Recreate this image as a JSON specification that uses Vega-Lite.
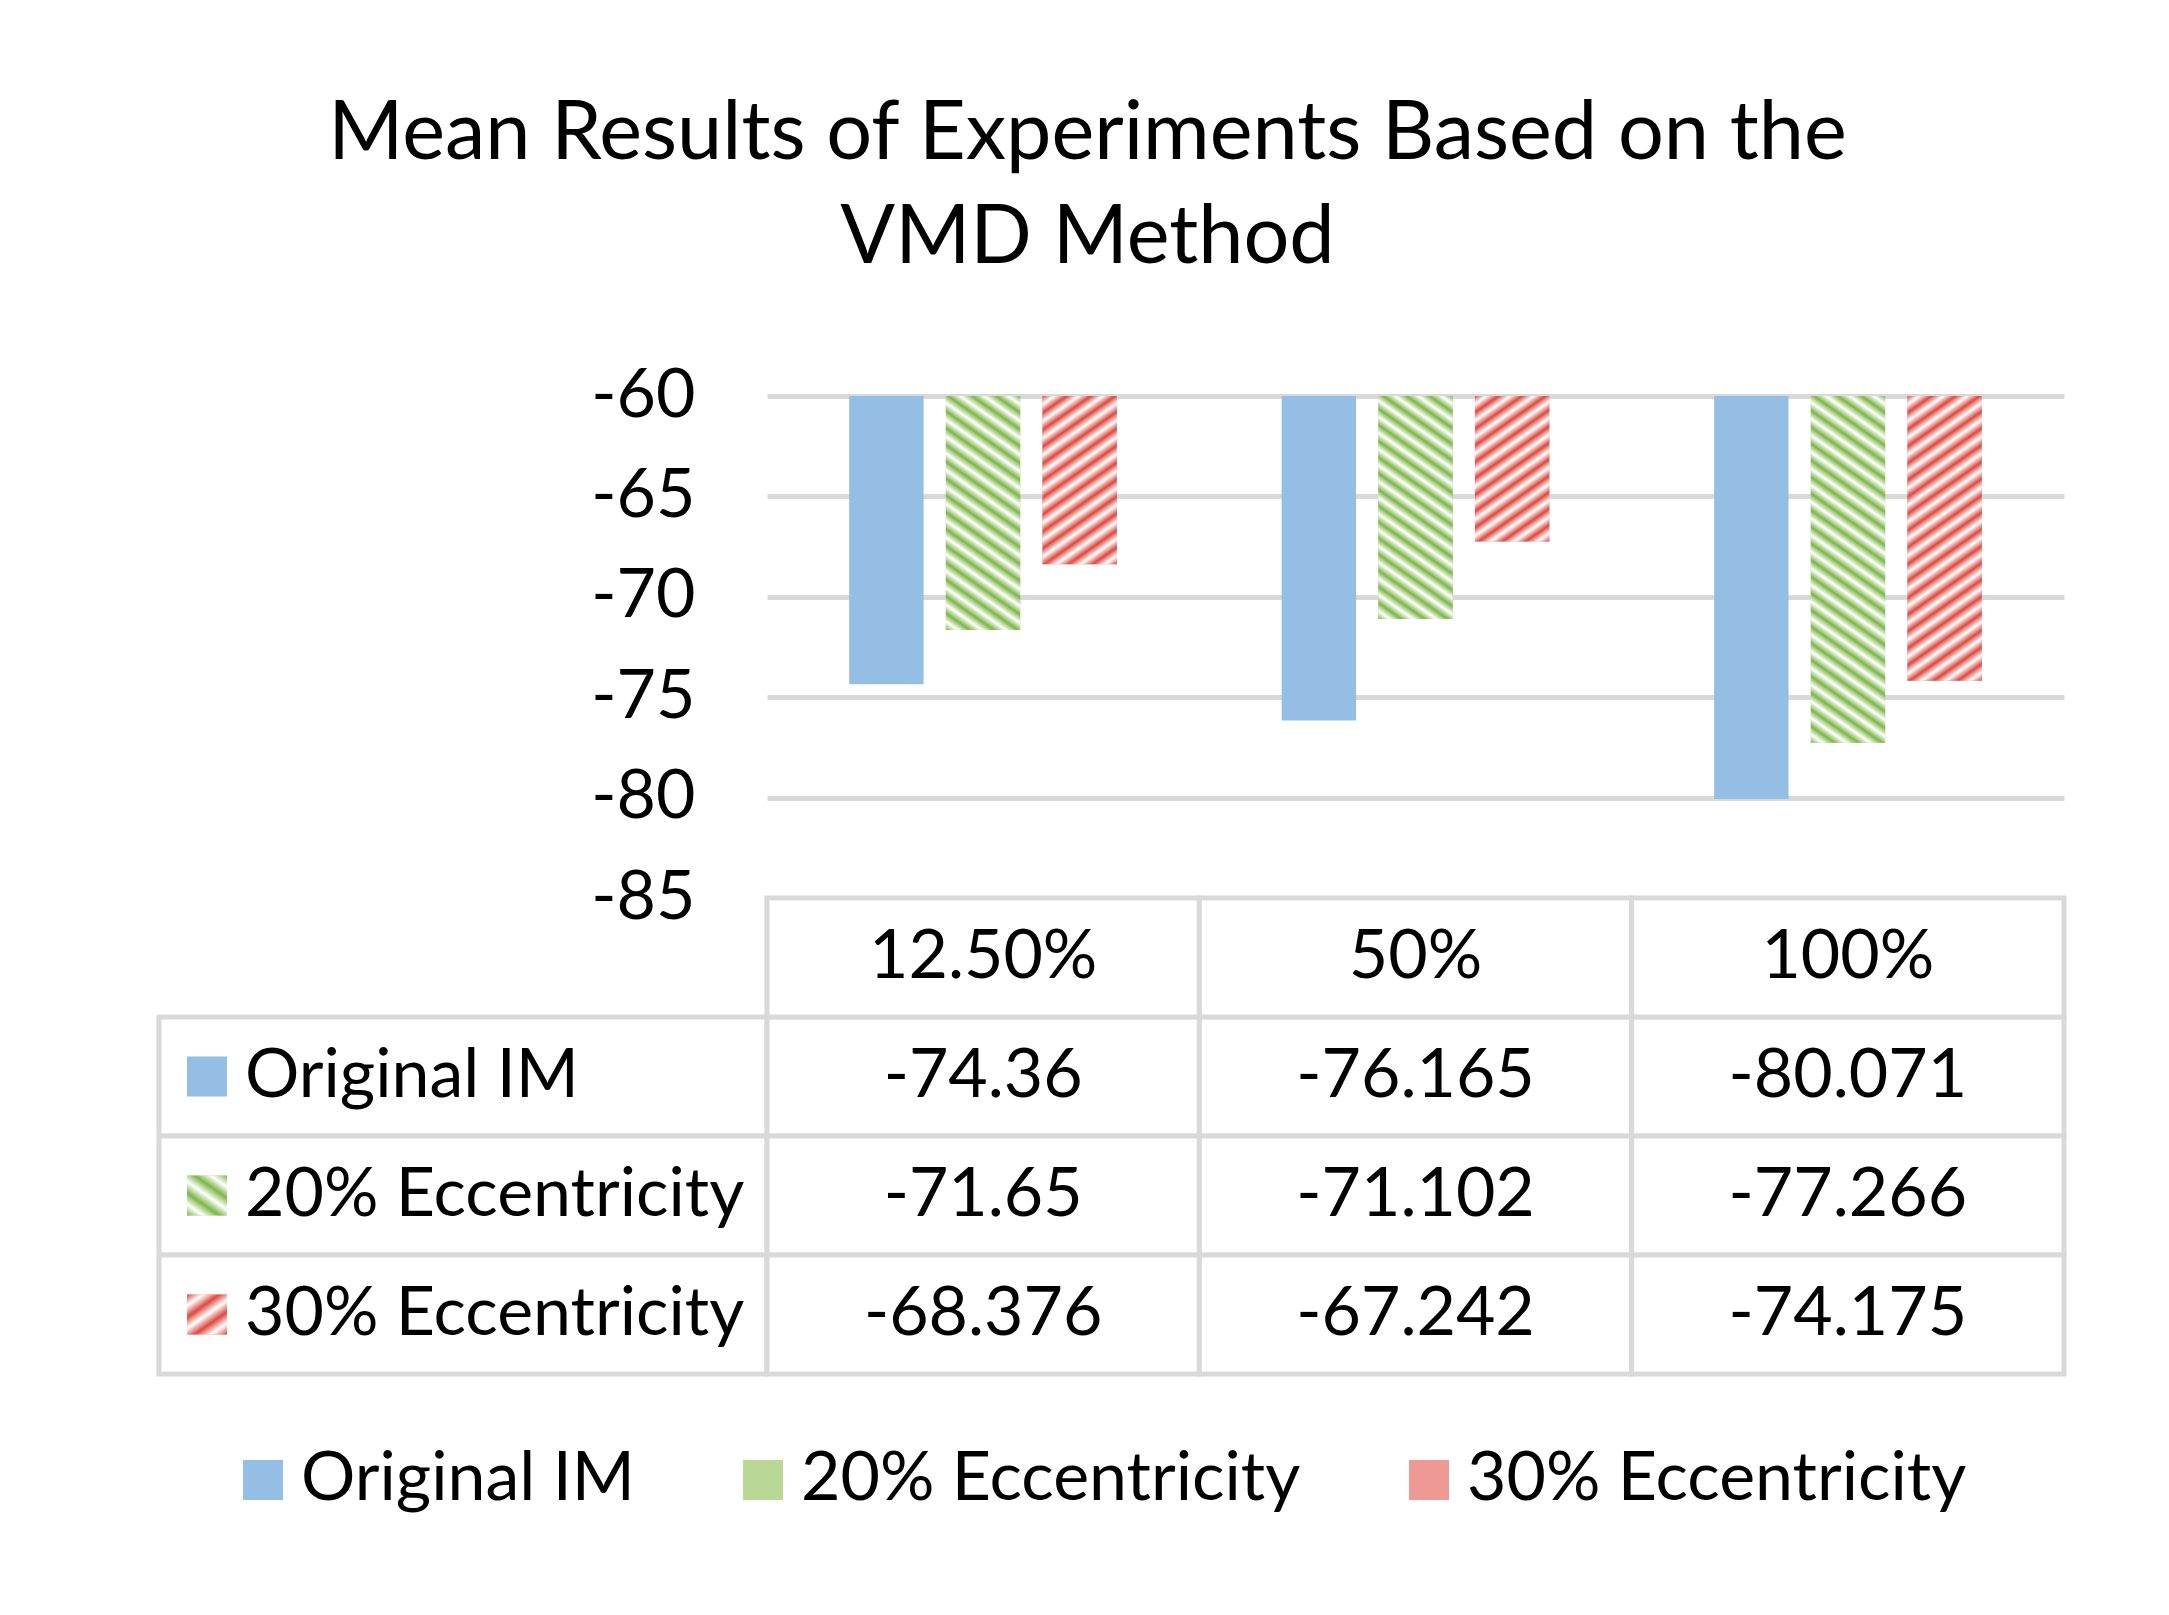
{
  "$schema": "https://vega.github.io/schema/vega-lite/v6.json",
  "background": "white",
  "padding": {"left": 156, "top": 94, "right": 20, "bottom": 20},
  "title": {
    "text": ["Mean Results of Experiments Based on the", "VMD Method"],
    "fontSize": 81, "font": "Lato", "fontWeight": "normal", "color": "black",
    "anchor": "middle", "lineHeight": 104, "offset": 82, "dx": -24
  },
  "datasets": {
    "d": [
      {"cat": "12.50%", "series": "Original IM", "value": -74.36},
      {"cat": "50%", "series": "Original IM", "value": -76.165},
      {"cat": "100%", "series": "Original IM", "value": -80.071},
      {"cat": "12.50%", "series": "20% Eccentricity", "value": -71.65},
      {"cat": "50%", "series": "20% Eccentricity", "value": -71.102},
      {"cat": "100%", "series": "20% Eccentricity", "value": -77.266},
      {"cat": "12.50%", "series": "30% Eccentricity", "value": -68.376},
      {"cat": "50%", "series": "30% Eccentricity", "value": -67.242},
      {"cat": "100%", "series": "30% Eccentricity", "value": -74.175}
    ]
  },
  "data": {"name": "d"},
  "columns": 2,
  "spacing": 0,
  "bounds": "flush",
  "concat": [
    {
      "width": 608, "height": 502,
      "mark": {"type": "text", "text": ""},
      "encoding": {}
    },
    {
      "width": 1297, "height": 502,
      "encoding": {
        "x": {"field": "cat", "type": "nominal", "scale": {"domain": ["12.50%", "50%", "100%"], "paddingInner": 0.381, "paddingOuter": 0.19}, "axis": null},
        "xOffset": {"field": "series", "type": "nominal", "scale": {"domain": ["Original IM", "20% Eccentricity", "30% Eccentricity"], "paddingInner": 0.23, "paddingOuter": 0}},
        "y": {"field": "value", "type": "quantitative",
          "scale": {"domain": [-85, -60], "nice": false, "zero": false},
          "axis": {"values": [-85, -80, -75, -70, -65, -60], "grid": true, "gridColor": "#d9d9d9", "gridWidth": 5,
            "labelExpr": "'' + datum.value",
            "domain": false, "ticks": false, "labelPadding": 72, "labelFontSize": 68, "labelFont": "Lato", "labelColor": "black", "title": null}},
        "y2": {"datum": -60}
      },
      "layer": [
        {
          "mark": {"type": "bar"},
          "encoding": {
            "color": {"field": "series", "type": "nominal",
              "scale": {"domain": ["Original IM", "20% Eccentricity", "30% Eccentricity"], "range": ["#94bee4", "#b9d895", "#ee9994"]},
              "legend": {"orient": "none", "legendX": 70, "legendY": 1050, "direction": "horizontal", "title": null,
                "symbolType": "square", "symbolSize": 1600, "symbolStrokeWidth": 0, "symbolOpacity": 1,
                "labelFontSize": 68, "labelFont": "Lato", "labelColor": "black", "labelOffset": 4, "labelLimit": 1000, "columnPadding": 94,
                "encode": {"symbols": {"update": {"fill": [
                  {"test": "datum.value === '20% Eccentricity'", "value": {"gradient": "linear", "x1": 0, "y1": 1, "x2": 0.7987, "y2": -0.141, "stops": [
                    {"offset": 0, "color": "#7db647"}, {"offset": 0.1667, "color": "#ffffff"}, {"offset": 0.3333, "color": "#7db647"}, {"offset": 0.5, "color": "#ffffff"},
                    {"offset": 0.6667, "color": "#7db647"}, {"offset": 0.8333, "color": "#ffffff"}, {"offset": 1, "color": "#7db647"}]}},
                  {"test": "datum.value === '30% Eccentricity'", "value": {"gradient": "linear", "x1": 0, "y1": 0, "x2": 0.7987, "y2": 1.141, "stops": [
                    {"offset": 0, "color": "#dc4a40"}, {"offset": 0.1667, "color": "#ffffff"}, {"offset": 0.3333, "color": "#dc4a40"}, {"offset": 0.5, "color": "#ffffff"},
                    {"offset": 0.6667, "color": "#dc4a40"}, {"offset": 0.8333, "color": "#ffffff"}, {"offset": 1, "color": "#dc4a40"}]}},
                  {"value": "#94bee4"}
                ], "opacity": {"value": 1}}}}}}
          }
        },
        {
          "transform": [{"filter": "datum.series === '20% Eccentricity' && datum.cat === '12.50%'"}],
          "mark": {"type": "bar", "color": {"gradient": "linear", "x1": 0, "y1": 1, "x2": 0.2594, "y2": -0.165, "stops": [
            {"offset": 0, "color": "#7db647"}, {"offset": 0.0294, "color": "#ffffff"}, {"offset": 0.0588, "color": "#7db647"}, {"offset": 0.0882, "color": "#ffffff"},
            {"offset": 0.1176, "color": "#7db647"}, {"offset": 0.1471, "color": "#ffffff"}, {"offset": 0.1765, "color": "#7db647"}, {"offset": 0.2059, "color": "#ffffff"},
            {"offset": 0.2353, "color": "#7db647"}, {"offset": 0.2647, "color": "#ffffff"}, {"offset": 0.2941, "color": "#7db647"}, {"offset": 0.3235, "color": "#ffffff"},
            {"offset": 0.3529, "color": "#7db647"}, {"offset": 0.3824, "color": "#ffffff"}, {"offset": 0.4118, "color": "#7db647"}, {"offset": 0.4412, "color": "#ffffff"},
            {"offset": 0.4706, "color": "#7db647"}, {"offset": 0.5, "color": "#ffffff"}, {"offset": 0.5294, "color": "#7db647"}, {"offset": 0.5588, "color": "#ffffff"},
            {"offset": 0.5882, "color": "#7db647"}, {"offset": 0.6176, "color": "#ffffff"}, {"offset": 0.6471, "color": "#7db647"}, {"offset": 0.6765, "color": "#ffffff"},
            {"offset": 0.7059, "color": "#7db647"}, {"offset": 0.7353, "color": "#ffffff"}, {"offset": 0.7647, "color": "#7db647"}, {"offset": 0.7941, "color": "#ffffff"},
            {"offset": 0.8235, "color": "#7db647"}, {"offset": 0.8529, "color": "#ffffff"}, {"offset": 0.8824, "color": "#7db647"}, {"offset": 0.9118, "color": "#ffffff"},
            {"offset": 0.9412, "color": "#7db647"}, {"offset": 0.9706, "color": "#ffffff"}, {"offset": 1, "color": "#7db647"}
          ]}}
        },
        {
          "transform": [{"filter": "datum.series === '20% Eccentricity' && datum.cat === '50%'"}],
          "mark": {"type": "bar", "color": {"gradient": "linear", "x1": 0, "y1": 1, "x2": 0.2733, "y2": -0.1698, "stops": [
            {"offset": 0, "color": "#7db647"}, {"offset": 0.0294, "color": "#ffffff"}, {"offset": 0.0588, "color": "#7db647"}, {"offset": 0.0882, "color": "#ffffff"},
            {"offset": 0.1176, "color": "#7db647"}, {"offset": 0.1471, "color": "#ffffff"}, {"offset": 0.1765, "color": "#7db647"}, {"offset": 0.2059, "color": "#ffffff"},
            {"offset": 0.2353, "color": "#7db647"}, {"offset": 0.2647, "color": "#ffffff"}, {"offset": 0.2941, "color": "#7db647"}, {"offset": 0.3235, "color": "#ffffff"},
            {"offset": 0.3529, "color": "#7db647"}, {"offset": 0.3824, "color": "#ffffff"}, {"offset": 0.4118, "color": "#7db647"}, {"offset": 0.4412, "color": "#ffffff"},
            {"offset": 0.4706, "color": "#7db647"}, {"offset": 0.5, "color": "#ffffff"}, {"offset": 0.5294, "color": "#7db647"}, {"offset": 0.5588, "color": "#ffffff"},
            {"offset": 0.5882, "color": "#7db647"}, {"offset": 0.6176, "color": "#ffffff"}, {"offset": 0.6471, "color": "#7db647"}, {"offset": 0.6765, "color": "#ffffff"},
            {"offset": 0.7059, "color": "#7db647"}, {"offset": 0.7353, "color": "#ffffff"}, {"offset": 0.7647, "color": "#7db647"}, {"offset": 0.7941, "color": "#ffffff"},
            {"offset": 0.8235, "color": "#7db647"}, {"offset": 0.8529, "color": "#ffffff"}, {"offset": 0.8824, "color": "#7db647"}, {"offset": 0.9118, "color": "#ffffff"},
            {"offset": 0.9412, "color": "#7db647"}, {"offset": 0.9706, "color": "#ffffff"}, {"offset": 1, "color": "#7db647"}
          ]}}
        },
        {
          "transform": [{"filter": "datum.series === '20% Eccentricity' && datum.cat === '100%'"}],
          "mark": {"type": "bar", "color": {"gradient": "linear", "x1": 0, "y1": 1, "x2": 0.169, "y2": -0.1249, "stops": [
            {"offset": 0, "color": "#7db647"}, {"offset": 0.0208, "color": "#ffffff"}, {"offset": 0.0417, "color": "#7db647"}, {"offset": 0.0625, "color": "#ffffff"},
            {"offset": 0.0833, "color": "#7db647"}, {"offset": 0.1042, "color": "#ffffff"}, {"offset": 0.125, "color": "#7db647"}, {"offset": 0.1458, "color": "#ffffff"},
            {"offset": 0.1667, "color": "#7db647"}, {"offset": 0.1875, "color": "#ffffff"}, {"offset": 0.2083, "color": "#7db647"}, {"offset": 0.2292, "color": "#ffffff"},
            {"offset": 0.25, "color": "#7db647"}, {"offset": 0.2708, "color": "#ffffff"}, {"offset": 0.2917, "color": "#7db647"}, {"offset": 0.3125, "color": "#ffffff"},
            {"offset": 0.3333, "color": "#7db647"}, {"offset": 0.3542, "color": "#ffffff"}, {"offset": 0.375, "color": "#7db647"}, {"offset": 0.3958, "color": "#ffffff"},
            {"offset": 0.4167, "color": "#7db647"}, {"offset": 0.4375, "color": "#ffffff"}, {"offset": 0.4583, "color": "#7db647"}, {"offset": 0.4792, "color": "#ffffff"},
            {"offset": 0.5, "color": "#7db647"}, {"offset": 0.5208, "color": "#ffffff"}, {"offset": 0.5417, "color": "#7db647"}, {"offset": 0.5625, "color": "#ffffff"},
            {"offset": 0.5833, "color": "#7db647"}, {"offset": 0.6042, "color": "#ffffff"}, {"offset": 0.625, "color": "#7db647"}, {"offset": 0.6458, "color": "#ffffff"},
            {"offset": 0.6667, "color": "#7db647"}, {"offset": 0.6875, "color": "#ffffff"}, {"offset": 0.7083, "color": "#7db647"}, {"offset": 0.7292, "color": "#ffffff"},
            {"offset": 0.75, "color": "#7db647"}, {"offset": 0.7708, "color": "#ffffff"}, {"offset": 0.7917, "color": "#7db647"}, {"offset": 0.8125, "color": "#ffffff"},
            {"offset": 0.8333, "color": "#7db647"}, {"offset": 0.8542, "color": "#ffffff"}, {"offset": 0.875, "color": "#7db647"}, {"offset": 0.8958, "color": "#ffffff"},
            {"offset": 0.9167, "color": "#7db647"}, {"offset": 0.9375, "color": "#ffffff"}, {"offset": 0.9583, "color": "#7db647"}, {"offset": 0.9792, "color": "#ffffff"},
            {"offset": 1, "color": "#7db647"}
          ]}}
        },
        {
          "transform": [{"filter": "datum.series === '30% Eccentricity' && datum.cat === '12.50%'"}],
          "mark": {"type": "bar", "color": {"gradient": "linear", "x1": 0, "y1": 0, "x2": 0.37, "y2": 1.195, "stops": [
            {"offset": 0, "color": "#dc4a40"}, {"offset": 0.0385, "color": "#ffffff"}, {"offset": 0.0769, "color": "#dc4a40"}, {"offset": 0.1154, "color": "#ffffff"},
            {"offset": 0.1538, "color": "#dc4a40"}, {"offset": 0.1923, "color": "#ffffff"}, {"offset": 0.2308, "color": "#dc4a40"}, {"offset": 0.2692, "color": "#ffffff"},
            {"offset": 0.3077, "color": "#dc4a40"}, {"offset": 0.3462, "color": "#ffffff"}, {"offset": 0.3846, "color": "#dc4a40"}, {"offset": 0.4231, "color": "#ffffff"},
            {"offset": 0.4615, "color": "#dc4a40"}, {"offset": 0.5, "color": "#ffffff"}, {"offset": 0.5385, "color": "#dc4a40"}, {"offset": 0.5769, "color": "#ffffff"},
            {"offset": 0.6154, "color": "#dc4a40"}, {"offset": 0.6538, "color": "#ffffff"}, {"offset": 0.6923, "color": "#dc4a40"}, {"offset": 0.7308, "color": "#ffffff"},
            {"offset": 0.7692, "color": "#dc4a40"}, {"offset": 0.8077, "color": "#ffffff"}, {"offset": 0.8462, "color": "#dc4a40"}, {"offset": 0.8846, "color": "#ffffff"},
            {"offset": 0.9231, "color": "#dc4a40"}, {"offset": 0.9615, "color": "#ffffff"}, {"offset": 1, "color": "#dc4a40"}
          ]}}
        },
        {
          "transform": [{"filter": "datum.series === '30% Eccentricity' && datum.cat === '50%'"}],
          "mark": {"type": "bar", "color": {"gradient": "linear", "x1": 0, "y1": 0, "x2": 0.4312, "y2": 1.2038, "stops": [
            {"offset": 0, "color": "#dc4a40"}, {"offset": 0.0417, "color": "#ffffff"}, {"offset": 0.0833, "color": "#dc4a40"}, {"offset": 0.125, "color": "#ffffff"},
            {"offset": 0.1667, "color": "#dc4a40"}, {"offset": 0.2083, "color": "#ffffff"}, {"offset": 0.25, "color": "#dc4a40"}, {"offset": 0.2917, "color": "#ffffff"},
            {"offset": 0.3333, "color": "#dc4a40"}, {"offset": 0.375, "color": "#ffffff"}, {"offset": 0.4167, "color": "#dc4a40"}, {"offset": 0.4583, "color": "#ffffff"},
            {"offset": 0.5, "color": "#dc4a40"}, {"offset": 0.5417, "color": "#ffffff"}, {"offset": 0.5833, "color": "#dc4a40"}, {"offset": 0.625, "color": "#ffffff"},
            {"offset": 0.6667, "color": "#dc4a40"}, {"offset": 0.7083, "color": "#ffffff"}, {"offset": 0.75, "color": "#dc4a40"}, {"offset": 0.7917, "color": "#ffffff"},
            {"offset": 0.8333, "color": "#dc4a40"}, {"offset": 0.875, "color": "#ffffff"}, {"offset": 0.9167, "color": "#dc4a40"}, {"offset": 0.9583, "color": "#ffffff"},
            {"offset": 1, "color": "#dc4a40"}
          ]}}
        },
        {
          "transform": [{"filter": "datum.series === '30% Eccentricity' && datum.cat === '100%'"}],
          "mark": {"type": "bar", "color": {"gradient": "linear", "x1": 0, "y1": 0, "x2": 0.2095, "y2": 1.1447, "stops": [
            {"offset": 0, "color": "#dc4a40"}, {"offset": 0.025, "color": "#ffffff"}, {"offset": 0.05, "color": "#dc4a40"}, {"offset": 0.075, "color": "#ffffff"},
            {"offset": 0.1, "color": "#dc4a40"}, {"offset": 0.125, "color": "#ffffff"}, {"offset": 0.15, "color": "#dc4a40"}, {"offset": 0.175, "color": "#ffffff"},
            {"offset": 0.2, "color": "#dc4a40"}, {"offset": 0.225, "color": "#ffffff"}, {"offset": 0.25, "color": "#dc4a40"}, {"offset": 0.275, "color": "#ffffff"},
            {"offset": 0.3, "color": "#dc4a40"}, {"offset": 0.325, "color": "#ffffff"}, {"offset": 0.35, "color": "#dc4a40"}, {"offset": 0.375, "color": "#ffffff"},
            {"offset": 0.4, "color": "#dc4a40"}, {"offset": 0.425, "color": "#ffffff"}, {"offset": 0.45, "color": "#dc4a40"}, {"offset": 0.475, "color": "#ffffff"},
            {"offset": 0.5, "color": "#dc4a40"}, {"offset": 0.525, "color": "#ffffff"}, {"offset": 0.55, "color": "#dc4a40"}, {"offset": 0.575, "color": "#ffffff"},
            {"offset": 0.6, "color": "#dc4a40"}, {"offset": 0.625, "color": "#ffffff"}, {"offset": 0.65, "color": "#dc4a40"}, {"offset": 0.675, "color": "#ffffff"},
            {"offset": 0.7, "color": "#dc4a40"}, {"offset": 0.725, "color": "#ffffff"}, {"offset": 0.75, "color": "#dc4a40"}, {"offset": 0.775, "color": "#ffffff"},
            {"offset": 0.8, "color": "#dc4a40"}, {"offset": 0.825, "color": "#ffffff"}, {"offset": 0.85, "color": "#dc4a40"}, {"offset": 0.875, "color": "#ffffff"},
            {"offset": 0.9, "color": "#dc4a40"}, {"offset": 0.925, "color": "#ffffff"}, {"offset": 0.95, "color": "#dc4a40"}, {"offset": 0.975, "color": "#ffffff"},
            {"offset": 1, "color": "#dc4a40"}
          ]}}
        }
      ]
    },
    {
      "width": 608, "height": 476,
      "transform": [{"filter": "datum.cat === '12.50%'"}],
      "encoding": {
        "y": {"field": "series", "type": "nominal", "scale": {"domain": ["header", "Original IM", "20% Eccentricity", "30% Eccentricity"], "paddingInner": 0, "paddingOuter": 0}, "axis": null}
      },
      "layer": [
        {"mark": {"type": "rect", "fill": "white", "stroke": "#d9d9d9", "strokeWidth": 5}},
        {"mark": {"type": "point", "shape": "square", "filled": true, "size": 1600, "opacity": 1},
          "encoding": {"x": {"value": 48},
            "color": {"field": "series", "type": "nominal", "legend": null}}},
        {"transform": [{"filter": "datum.series === '20% Eccentricity'"}],
          "mark": {"type": "point", "shape": "square", "filled": true, "size": 1600, "opacity": 1,
            "color": {"gradient": "linear", "x1": 0, "y1": 1, "x2": 0.7987, "y2": -0.141, "stops": [
              {"offset": 0, "color": "#7db647"}, {"offset": 0.1667, "color": "#ffffff"}, {"offset": 0.3333, "color": "#7db647"}, {"offset": 0.5, "color": "#ffffff"},
              {"offset": 0.6667, "color": "#7db647"}, {"offset": 0.8333, "color": "#ffffff"}, {"offset": 1, "color": "#7db647"}]}},
          "encoding": {"x": {"value": 48}}},
        {"transform": [{"filter": "datum.series === '30% Eccentricity'"}],
          "mark": {"type": "point", "shape": "square", "filled": true, "size": 1600, "opacity": 1,
            "color": {"gradient": "linear", "x1": 0, "y1": 0, "x2": 0.7987, "y2": 1.141, "stops": [
              {"offset": 0, "color": "#dc4a40"}, {"offset": 0.1667, "color": "#ffffff"}, {"offset": 0.3333, "color": "#dc4a40"}, {"offset": 0.5, "color": "#ffffff"},
              {"offset": 0.6667, "color": "#dc4a40"}, {"offset": 0.8333, "color": "#ffffff"}, {"offset": 1, "color": "#dc4a40"}]}},
          "encoding": {"x": {"value": 48}}},
        {"mark": {"type": "text", "align": "left", "baseline": "middle", "fontSize": 68, "font": "Lato", "color": "black"},
          "encoding": {"x": {"value": 86}, "text": {"field": "series", "type": "nominal"}}}
      ]
    },
    {
      "width": 1297, "height": 476,
      "encoding": {
        "x": {"field": "cat", "type": "nominal", "scale": {"domain": ["12.50%", "50%", "100%"], "paddingInner": 0, "paddingOuter": 0}, "axis": null}
      },
      "layer": [
        {"mark": {"type": "rect", "fill": "white", "stroke": "#d9d9d9", "strokeWidth": 5},
          "encoding": {"y": {"field": "series", "type": "nominal", "scale": {"domain": ["header", "Original IM", "20% Eccentricity", "30% Eccentricity"], "paddingInner": 0, "paddingOuter": 0}, "axis": null}}},
        {"transform": [{"filter": "datum.series === 'Original IM'"}],
          "mark": {"type": "rect", "fill": "white", "stroke": "#d9d9d9", "strokeWidth": 5},
          "encoding": {"y": {"datum": "header", "type": "nominal"}}},
        {"mark": {"type": "text", "align": "center", "baseline": "middle", "fontSize": 68, "font": "Lato", "color": "black"},
          "encoding": {"y": {"field": "series", "type": "nominal"}, "text": {"field": "value", "type": "nominal"}}},
        {"transform": [{"filter": "datum.series === 'Original IM'"}],
          "mark": {"type": "text", "align": "center", "baseline": "middle", "fontSize": 68, "font": "Lato", "color": "black"},
          "encoding": {"y": {"datum": "header", "type": "nominal"}, "text": {"field": "cat", "type": "nominal"}}}
      ]
    }
  ],
  "config": {
    "view": {"stroke": null},
    "font": "Lato"
  }
}
